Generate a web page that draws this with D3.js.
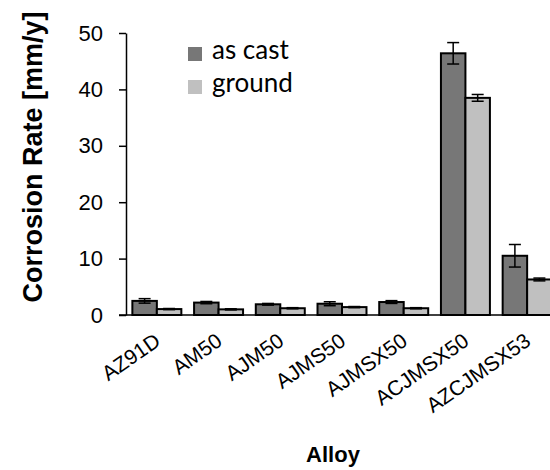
<!DOCTYPE html>
<html>
<head>
<meta charset="utf-8">
<script src="https://cdn.jsdelivr.net/npm/d3@7"></script>
<style>
  html, body { margin: 0; padding: 0; background: #fff; }
  svg { display: block; }
</style>
</head>
<body>
<svg id="chart" width="550" height="470"></svg>
<script>
// Corrosion rate of magnesium alloys, as cast vs. ground surface
const alloys = ["AZ91D", "AM50", "AJM50", "AJMS50", "AJMSX50", "ACJMSX50", "AZCJMSX53"];
const seriesNames = ["as cast", "ground"];
const asCast = [2.5, 2.2, 1.9, 2.0, 2.3, 46.4, 10.5];
const asCastErr = [0.4, 0.2, 0.15, 0.35, 0.25, 1.9, 2.0];
const ground = [1.05, 1.0, 1.2, 1.4, 1.2, 38.5, 6.3];
const groundErr = [0.1, 0.1, 0.1, 0.1, 0.1, 0.6, 0.25];
const yTicks = [0, 10, 20, 30, 40, 50];
const colors = ["#777777", "#c0c0c0"];

const svg = d3.select("#chart");

const x0 = d3.scaleBand().domain(alloys).range([126, 558]).padding(0);
const x1 = d3.scaleBand().domain(seriesNames).range([0, x0.bandwidth()]).paddingInner(0).paddingOuter(0.26);
const y = d3.scaleLinear().domain([0, 50]).range([315, 33]);

const rows = alloys.map((a, i) => ({
  alloy: a,
  values: [
    { s: seriesNames[0], v: asCast[i], e: asCastErr[i] },
    { s: seriesNames[1], v: ground[i], e: groundErr[i] }
  ]
}));

// bars
const groups = svg.append("g").selectAll("g").data(rows).join("g")
  .attr("transform", d => `translate(${x0(d.alloy)},0)`);

groups.selectAll("rect").data(d => d.values).join("rect")
  .attr("x", d => x1(d.s))
  .attr("y", d => y(d.v))
  .attr("width", x1.bandwidth())
  .attr("height", d => y(0) - y(d.v))
  .attr("fill", (d, i) => colors[i])
  .attr("stroke", "#000")
  .attr("stroke-width", 2);

// error bars
const eb = groups.selectAll("g.err").data(d => d.values).join("g").attr("class", "err");
eb.append("line")
  .attr("x1", d => x1(d.s) + x1.bandwidth() / 2)
  .attr("x2", d => x1(d.s) + x1.bandwidth() / 2)
  .attr("y1", d => y(d.v + d.e))
  .attr("y2", d => y(d.v - d.e))
  .attr("stroke", "#000").attr("stroke-width", 1.5);
["+", "-"].forEach(sign => {
  eb.append("line")
    .attr("x1", d => x1(d.s) + x1.bandwidth() / 2 - 6)
    .attr("x2", d => x1(d.s) + x1.bandwidth() / 2 + 6)
    .attr("y1", d => y(sign === "+" ? d.v + d.e : d.v - d.e))
    .attr("y2", d => y(sign === "+" ? d.v + d.e : d.v - d.e))
    .attr("stroke", "#000").attr("stroke-width", 1.5);
});

// y axis
const yAxis = svg.append("g")
  .attr("transform", "translate(126,0)")
  .call(d3.axisLeft(y).tickValues(yTicks).tickSize(7).tickSizeOuter(0).tickPadding(16));
yAxis.select(".domain").attr("stroke", "#000").attr("stroke-width", 1.5);
yAxis.selectAll(".tick line").attr("stroke", "#000").attr("stroke-width", 1.5);
yAxis.selectAll(".tick text")
  .attr("font-family", "'Liberation Sans', Arial, sans-serif")
  .attr("font-size", 22).attr("fill", "#000");

// x axis
const xAxis = svg.append("g")
  .attr("transform", `translate(0,${y(0)})`)
  .call(d3.axisBottom(x0).tickSize(0).tickSizeOuter(0).tickPadding(0));
xAxis.select(".domain").attr("d", `M119,0H550`).attr("stroke", "#000").attr("stroke-width", 1.5);
xAxis.selectAll(".tick text")
  .attr("font-family", "'Liberation Sans', Arial, sans-serif")
  .attr("font-size", 21).attr("fill", "#000")
  .attr("text-anchor", "end")
  .attr("dy", 0)
  .attr("transform", "translate(5,29) rotate(-35)");

// axis titles
svg.append("text")
  .attr("transform", "translate(42,157) rotate(-90)")
  .attr("text-anchor", "middle")
  .attr("font-family", "'Liberation Sans', Arial, sans-serif")
  .attr("font-weight", "bold").attr("font-size", 27)
  .text("Corrosion Rate [mm/y]");

svg.append("text")
  .attr("x", 333).attr("y", 462)
  .attr("text-anchor", "middle")
  .attr("font-family", "'Liberation Sans', Arial, sans-serif")
  .attr("font-weight", "bold").attr("font-size", 22)
  .text("Alloy");

// legend
const legend = svg.append("g").attr("transform", "translate(188,47)");
const li = legend.selectAll("g").data(seriesNames).join("g")
  .attr("transform", (d, i) => `translate(0,${i * 33})`);
li.append("rect").attr("width", 14).attr("height", 14)
  .attr("fill", (d, i) => colors[i]);
li.append("text")
  .attr("x", 24).attr("y", 12)
  .attr("font-family", "Lato, 'Open Sans', sans-serif")
  .attr("font-size", 26).attr("fill", "#000")
  .text(d => d);
</script>
</body>
</html>
